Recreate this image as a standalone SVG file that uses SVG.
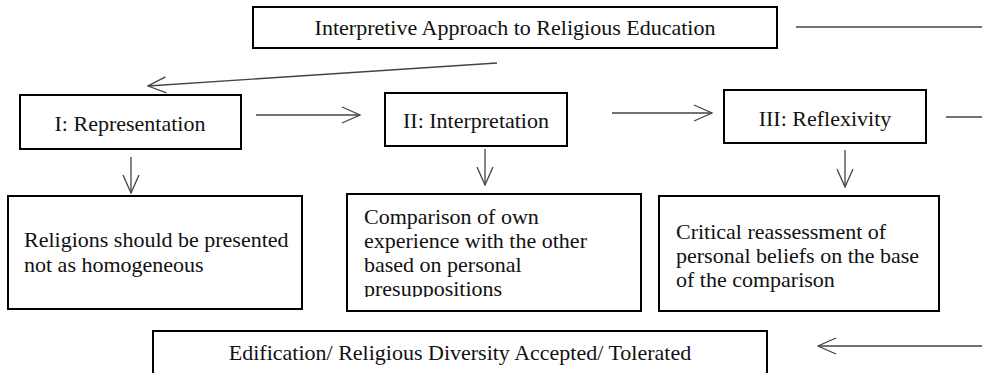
<svg xmlns="http://www.w3.org/2000/svg" width="982" height="373" viewBox="0 0 982 373">
<style>
.box{fill:#fff;stroke:#000;stroke-width:2}
.t{font-family:'Liberation Serif','Times New Roman','DejaVu Serif',serif;font-size:22px;fill:#111}
.c{text-anchor:middle}
.ln{stroke:#444;stroke-width:1.3;fill:none}
.ah{stroke:#444;stroke-width:1.3;fill:none}
</style>
<defs>
<marker id="arr" viewBox="0 0 20 20" refX="19" refY="10" markerWidth="20" markerHeight="20" markerUnits="userSpaceOnUse" orient="auto">
<path d="M1,2 L19,10 L1,18" class="ah"/>
</marker>
<clipPath id="clipC"><rect x="347" y="194" width="295" height="103"/></clipPath>
</defs>
<rect width="982" height="373" fill="#fff"/>
<g id="connectors">
<line class="ln" x1="796" y1="27" x2="982" y2="27"/>
<line class="ln" x1="497" y1="63" x2="148" y2="86" marker-end="url(#arr)"/>
<line class="ln" x1="256" y1="115" x2="360" y2="115" marker-end="url(#arr)"/>
<line class="ln" x1="612" y1="113" x2="712" y2="113" marker-end="url(#arr)"/>
<line class="ln" x1="946" y1="117" x2="982" y2="117"/>
<line class="ln" x1="131" y1="157" x2="131" y2="193" marker-end="url(#arr)"/>
<line class="ln" x1="485" y1="149" x2="485" y2="185" marker-end="url(#arr)"/>
<line class="ln" x1="845" y1="150" x2="845" y2="187" marker-end="url(#arr)"/>
<line class="ln" x1="982" y1="346" x2="818" y2="346" marker-end="url(#arr)"/>
</g>
<g id="title">
<rect class="box" x="253" y="7" width="524" height="41"/>
<text class="t c" x="515" y="35">Interpretive Approach to Religious Education</text>
</g>
<g id="representation">
<rect class="box" x="20" y="95" width="221" height="54"/>
<text class="t c" x="130" y="131">I: Representation</text>
</g>
<g id="interpretation">
<rect class="box" x="385" y="93" width="182" height="53"/>
<text class="t c" x="476" y="128">II: Interpretation</text>
</g>
<g id="reflexivity">
<rect class="box" x="724" y="90" width="202" height="53"/>
<text class="t c" x="825" y="126">III: Reflexivity</text>
</g>
<g id="religions">
<rect class="box" x="8" y="196" width="294" height="113"/>
<text class="t" x="24" y="247">Religions should be presented</text>
<text class="t" x="24" y="272">not as homogeneous</text>
</g>
<g id="comparison">
<rect class="box" x="347" y="194" width="294" height="117"/>
<g clip-path="url(#clipC)">
<text class="t" x="364" y="224">Comparison of own</text>
<text class="t" x="364" y="248">experience with the other</text>
<text class="t" x="364" y="272">based on personal</text>
<text class="t" x="364" y="296">presuppositions</text>
</g>
</g>
<g id="critical">
<rect class="box" x="659" y="196" width="280" height="115"/>
<text class="t" x="676" y="239">Critical reassessment of</text>
<text class="t" x="676" y="263">personal beliefs on the base</text>
<text class="t" x="676" y="287">of the comparison</text>
</g>
<g id="edification">
<rect class="box" x="153" y="331" width="614" height="44"/>
<text class="t c" x="460" y="360">Edification/ Religious Diversity Accepted/ Tolerated</text>
</g>
</svg>
